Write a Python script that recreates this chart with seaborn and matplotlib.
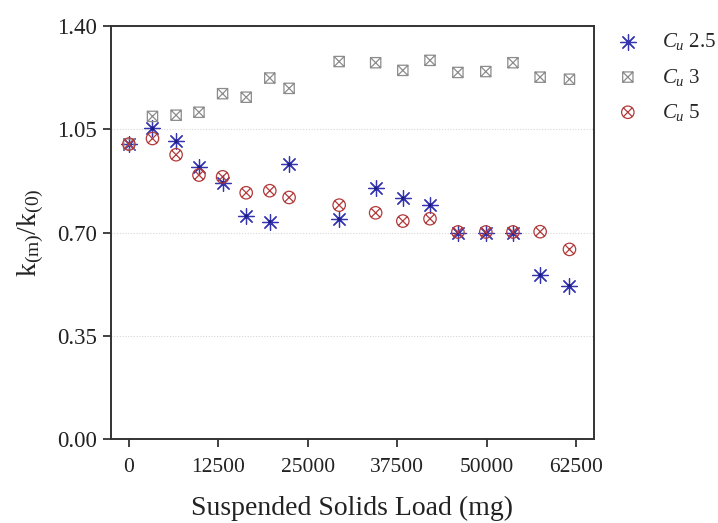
import numpy as np
import pandas as pd
import matplotlib
matplotlib.use("Agg")
import matplotlib.pyplot as plt
from matplotlib.path import Path
import seaborn as sns

# Suspended solids load (mg) at each measurement
load_mg = [0, 3300, 6600, 9800, 13100, 16400, 19700, 22400, 29400,
           34500, 38300, 42100, 46000, 49900, 53700, 57500, 61600]

# Normalised permeability k(m)/k(0) for each uniformity coefficient
ratio_cu25 = [1.000, 1.053, 1.009, 0.921, 0.869, 0.756, 0.737, 0.931, 0.746,
              0.850, 0.816, 0.793, 0.699, 0.699, 0.699, 0.556, 0.520]
ratio_cu3 = [1.000, 1.094, 1.098, 1.108, 1.171, 1.159, 1.224, 1.189, 1.280,
             1.276, 1.250, 1.284, 1.243, 1.246, 1.276, 1.227, 1.220]
ratio_cu5 = [1.000, 1.019, 0.964, 0.895, 0.889, 0.835, 0.842, 0.819, 0.793,
             0.767, 0.739, 0.747, 0.702, 0.702, 0.702, 0.703, 0.643]

series_labels = [r"$C_u$ 2.5", r"$C_u$ 3", r"$C_u$ 5"]

x_ticks = [0, 12500, 25000, 37500, 50000, 62500]
y_ticks = [0.00, 0.35, 0.70, 1.05, 1.40]

sns.set_style("ticks")
plt.rcParams["font.family"] = ["Liberation Serif", "DejaVu Serif"]
plt.rcParams["mathtext.fontset"] = "custom"
plt.rcParams["mathtext.rm"] = "Liberation Serif"
plt.rcParams["mathtext.it"] = "Liberation Serif:italic"

# Line-art markers: boxed cross and circled cross
sq_verts = [(-1, -1), (1, -1), (1, 1), (-1, 1), (-1, -1),
            (-1, -1), (1, 1), (-1, 1), (1, -1)]
sq_codes = [Path.MOVETO, Path.LINETO, Path.LINETO, Path.LINETO, Path.CLOSEPOLY,
            Path.MOVETO, Path.LINETO, Path.MOVETO, Path.LINETO]
boxed_x = Path(sq_verts, sq_codes)

d = np.sqrt(0.5)
cross = Path([(-d, -d), (d, d), (-d, d), (d, -d)],
             [Path.MOVETO, Path.LINETO, Path.MOVETO, Path.LINETO])
circled_x = Path.make_compound_path(Path.unit_circle(), cross)

blue = "#3535b0"
gray = "#8c8c8c"
red = "#b23a3a"

df = pd.DataFrame({"load": load_mg, "cu25": ratio_cu25,
                   "cu3": ratio_cu3, "cu5": ratio_cu5})

fig = plt.figure(figsize=(7.18, 5.23), dpi=100)
ax = fig.add_axes([0.1546, 0.1606, 0.827 - 0.1546, 0.950 - 0.1606])

sns.scatterplot(data=df, x="load", y="cu25", ax=ax, marker=(8, 2, 0), s=130,
                color=blue, edgecolor=blue, linewidth=0.9,
                label=series_labels[0], zorder=3)
sns.scatterplot(data=df, x="load", y="cu25", ax=ax, marker="o", s=5,
                color="#1c1c7a", edgecolor="none", legend=False, zorder=3)
sns.scatterplot(data=df, x="load", y="cu3", ax=ax, marker=boxed_x, s=55,
                facecolor="none", edgecolor=gray, linewidth=0.9,
                label=series_labels[1], zorder=3)
sns.scatterplot(data=df, x="load", y="cu5", ax=ax, marker=circled_x, s=80,
                facecolor="none", edgecolor=red, linewidth=0.9,
                label=series_labels[2], zorder=3)

ax.set_xlim(-2500, 65000)
ax.set_ylim(0, 1.40)
ax.set_xticks(x_ticks)
ax.set_xticklabels([str(v) for v in x_ticks])
ax.set_yticks(y_ticks)
ax.set_yticklabels([f"{v:.2f}" for v in y_ticks])

ax.yaxis.grid(True, linestyle=(0, (1, 1.5)), color="#d6d6d6", linewidth=0.8)
ax.set_axisbelow(True)

for side in ["left", "right", "top", "bottom"]:
    ax.spines[side].set_visible(True)
    ax.spines[side].set_color("#333333")
    ax.spines[side].set_linewidth(1.4)

ax.tick_params(axis="both", direction="out", length=6, width=1.3,
               color="#333333", labelcolor="#222222", pad=4)
ax.tick_params(axis="y", labelsize=16.5)
ax.tick_params(axis="x", labelsize=15.5, pad=8)

ax.set_xlabel("Suspended Solids Load (mg)", fontsize=20, color="#222222",
              labelpad=13)
ax.set_ylabel(r"k$_{\mathrm{(m)}}$/k$_{\mathrm{(0)}}$", fontsize=20,
              color="#222222", labelpad=8)

ax.legend(loc="upper left", bbox_to_anchor=(0.857, 0.940),
          bbox_transform=fig.transFigure, frameon=False, fontsize=15,
          handlelength=1.2, handletextpad=1.05, labelspacing=0.68,
          borderpad=0, borderaxespad=0)

fig.savefig("out.png", dpi=100)
